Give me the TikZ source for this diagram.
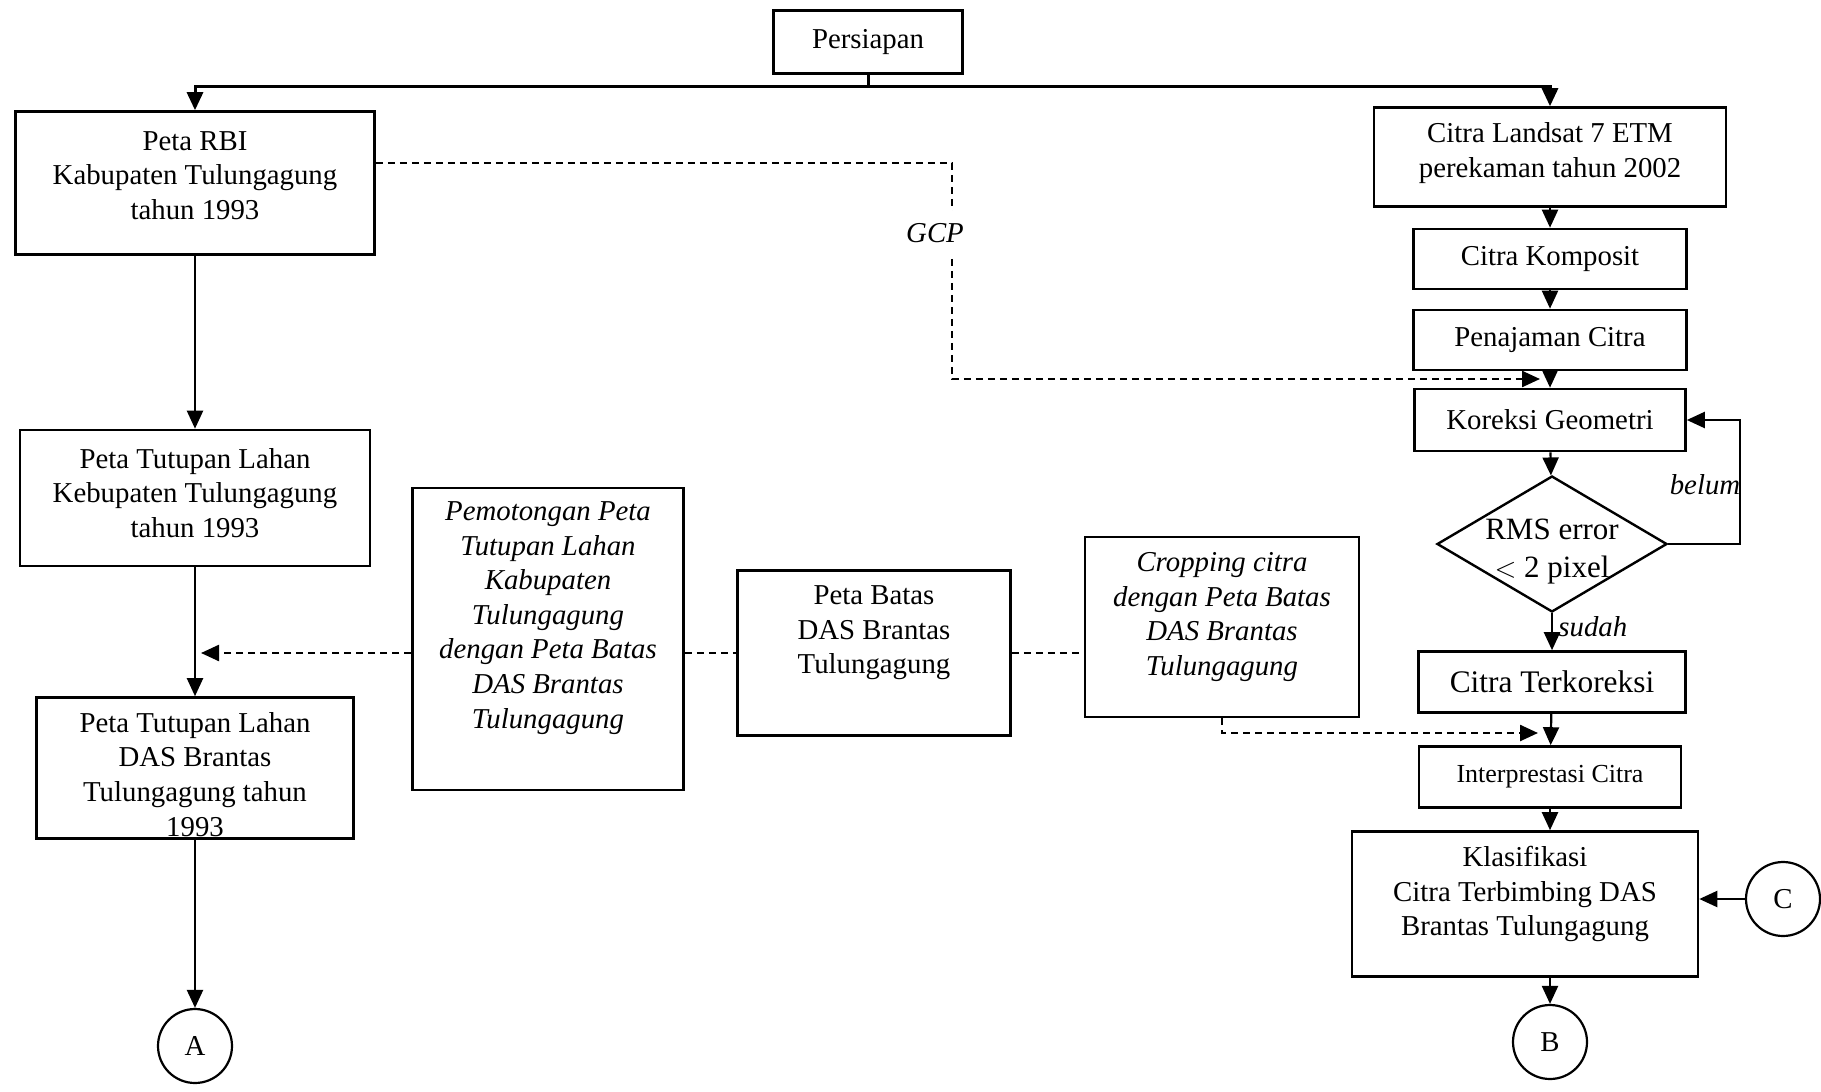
\documentclass[tikz,border=0pt]{standalone}
\usepackage{fontspec}
\setmainfont{Liberation Serif}
\usetikzlibrary{shapes,arrows.meta}
\tikzstyle{box_normal} = [rectangle, draw, line width=1.3pt, align=center, inner sep=2pt, font=\fontsize{14.4}{17.3}\selectfont]
\tikzstyle{box_text} = [align=center, inner sep=0pt, font=\fontsize{14.4}{17.3}\selectfont]
\tikzstyle{box_text_italic} = [box_text, font=\fontsize{14.4}{17.3}\selectfont\itshape]
\tikzstyle{node_decision} = [diamond, draw, line width=1.2pt, minimum width=115pt, minimum height=68pt, inner sep=0pt]
\tikzstyle{node_connector} = [circle, draw, line width=1.1pt, minimum size=37pt, inner sep=0pt, font=\fontsize{14.4}{17.3}\selectfont]
\tikzstyle{label_italic} = [font=\fontsize{14.4}{17.3}\selectfont\itshape, inner sep=1pt]
\tikzstyle{edge_normal} = [line width=1.1pt, -{Triangle[length=9pt,width=8pt]}]
\tikzstyle{edge_dashed} = [line width=1.2pt, dash pattern=on 3.5pt off 2.5pt]
\tikzstyle{edge_dashed_arrow} = [edge_dashed, -{Triangle[length=9pt,width=8pt]}]

\begin{document}
\begin{tikzpicture}[x=0.5pt, y=-0.5pt]
		\useasboundingbox (0,0) rectangle (1821,1092);
		% kolom kiri
		\node (Persiapan) at (868,42) [box_normal, minimum width=94.5pt, minimum height=31.5pt] {Persiapan};
		\node (RBI) at (195,183) [box_normal, minimum width=179.5pt, minimum height=71.5pt, label={[box_text, yshift=3.8pt]center:Peta RBI\\Kabupaten Tulungagung\\tahun 1993}] {};
		\node (Kab) at (195,498) [box_normal, minimum width=175pt, minimum height=68pt, label={[box_text, yshift=2.5pt]center:Peta Tutupan Lahan\\Kebupaten Tulungagung\\tahun 1993}] {};
		\node (DAS) at (195,768) [box_normal, minimum width=158.5pt, minimum height=70.5pt, label={[box_text, yshift=-3.2pt]center:Peta Tutupan Lahan\\DAS Brantas\\Tulungagung tahun\\1993}] {};
		\node (A) at (195,1046) [node_connector] {A};
		% kotak tengah
		\node (Pot) at (548,639) [box_normal, minimum width=135.5pt, minimum height=151pt, label={[box_text_italic, yshift=10.5pt]center:Pemotongan Peta\\Tutupan Lahan\\Kabupaten\\Tulungagung\\dengan Peta Batas\\DAS Brantas\\Tulungagung}] {};
		\node (Batas) at (874,653) [box_normal, minimum width=136.5pt, minimum height=82.5pt, label={[box_text, yshift=10pt]center:Peta Batas\\DAS Brantas\\Tulungagung}] {};
		\node (Crop) at (1222,627) [box_normal, minimum width=137pt, minimum height=90pt, label={[box_text_italic, yshift=5pt]center:Cropping citra\\dengan Peta Batas\\DAS Brantas\\Tulungagung}] {};
		% kolom kanan
		\node (Landsat) at (1550,157) [box_normal, minimum width=176pt, minimum height=49.5pt, label={[box_text, yshift=2pt]center:Citra Landsat 7 ETM\\perekaman tahun 2002}] {};
		\node (Komposit) at (1550,259) [box_normal, minimum width=136.5pt, minimum height=30pt] {Citra Komposit};
		\node (Tajam) at (1550,340) [box_normal, minimum width=136.5pt, minimum height=30pt] {Penajaman Citra};
		\node (Koreksi) at (1550,420) [box_normal, minimum width=135.5pt, minimum height=31pt] {Koreksi Geometri};
		\node (RMS) at (1552,544) [node_decision] {};
		\node (RMStext) at (1552,552) [box_text, font=\fontsize{15.5}{19}\selectfont] {RMS error\\$<$ 2 pixel};
		\node (Terk) at (1552,682) [box_normal, minimum width=133.5pt, minimum height=30.5pt, font=\fontsize{15.7}{18}\selectfont] {Citra Terkoreksi};
		\node (Interp) at (1550,777) [box_normal, minimum width=131pt, minimum height=30.5pt, font=\fontsize{13}{15}\selectfont] {Interprestasi Citra};
		\node (Klas) at (1525,904) [box_normal, minimum width=173pt, minimum height=72.5pt, label={[box_text, yshift=5pt]center:Klasifikasi\\Citra Terbimbing DAS\\Brantas Tulungagung}] {};
		\node (C) at (1783,899) [node_connector] {C};
		\node (B) at (1550,1042) [node_connector] {B};
		% titik bantu
		\coordinate (split) at (868,86);
		\coordinate (gcpturn) at (952,379);
		\coordinate (gcpend) at (1540,379);
		\coordinate (belumturn) at (1740,544);
		\coordinate (cropend) at (1538,733);
		\coordinate (potend) at (201,653);

		\draw[line width=1.5pt] (Persiapan) -- (split);
		\draw[edge_normal, line width=1.5pt] (split) -| (RBI);
		\draw[edge_normal, line width=1.5pt] (split) -| (Landsat);
		\draw[edge_normal] (RBI) -- (Kab);
		\draw[edge_normal] (Kab) -- (DAS);
		\draw[edge_normal] (DAS) -- (A);
		\draw[edge_normal] (Landsat) -- (Komposit);
		\draw[edge_normal] (Komposit) -- (Tajam);
		\draw[edge_normal] (Tajam) -- (Koreksi);
		\draw[edge_normal] (Koreksi) -- (RMS);
		\draw[edge_normal] (RMS) -- (Terk);
		\draw[edge_normal] (Terk) -- (Interp);
		\draw[edge_normal] (Interp) -- (Interp |- Klas.north);
		\draw[edge_normal] (B |- Klas.south) -- (B);
		\draw[edge_normal] (C) -- (Klas.east |- C);
		\draw[edge_normal] (RMS.east) -- (belumturn) |- (Koreksi.east);

		\draw[edge_dashed_arrow] ([yshift=10pt]RBI.east) -| (gcpturn) -- (gcpend);
		\draw[edge_dashed_arrow] (Crop.south) |- (cropend);
		\draw[edge_dashed_arrow] (Pot.west |- Batas) -- (potend);
		\draw[edge_dashed] (Pot.east |- Batas) -- (Batas);
		\draw[edge_dashed] (Batas) -- (Crop.west |- Batas);

		\node (GCP) at (935,233) [label_italic, fill=white, inner ysep=6pt] {GCP};
		\node (belum) at (1705,485) [label_italic] {belum};
		\node (sudah) at (1556,627) [label_italic, anchor=west] {sudah};
\end{tikzpicture}
\end{document}
